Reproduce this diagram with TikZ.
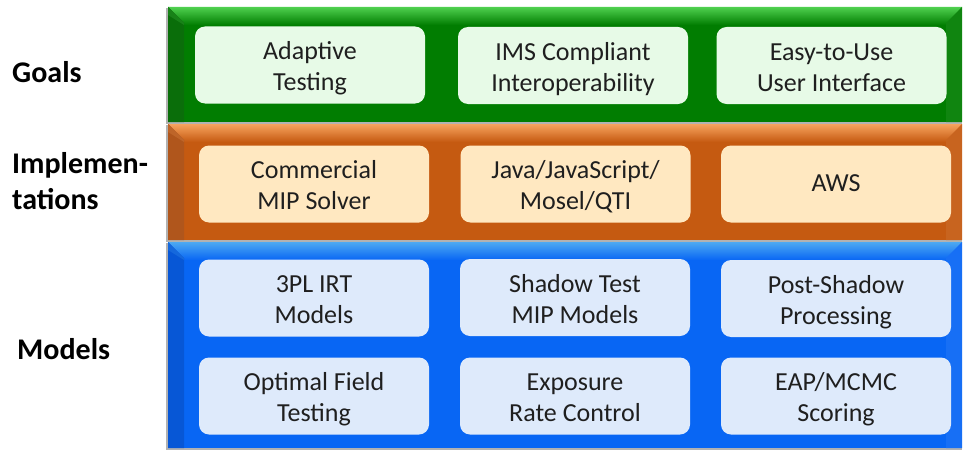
\documentclass[tikz,border=0pt]{standalone}
\usepackage{fontspec}
\setmainfont{Carlito}
\newcommand{\bt}[2]{\rule{0pt}{26pt}#1\\#2\rule[-6pt]{0pt}{6pt}}
\begin{document}
\begin{tikzpicture}[x=1pt,y=-1pt,
  boxtext/.style={align=center,text=black!88,font=\fontsize{26}{31}\selectfont,
    minimum width=230pt,minimum height=77pt,rounded corners=10pt,inner sep=0pt},
  gbox/.style={boxtext,fill=gboxc},
  obox/.style={boxtext,fill=oboxc},
  bbox/.style={boxtext,fill=bboxc},
  lbl/.style={anchor=west,align=left,text=black,font=\fontsize{30}{36}\selectfont\bfseries,inner sep=0pt}
]
\definecolor{gbase}{HTML}{017D01}
\definecolor{gtop}{HTML}{4FD04F}
\definecolor{gleft}{HTML}{0A6E0A}
\definecolor{obase}{HTML}{C55A11}
\definecolor{otop}{HTML}{F7A35E}
\definecolor{oleft}{HTML}{B0561C}
\definecolor{bbase}{HTML}{0866F4}
\definecolor{btop}{HTML}{4DA9F2}
\definecolor{bleft}{HTML}{0757D6}
\definecolor{gboxc}{HTML}{E7FAE7}
\definecolor{oboxc}{HTML}{FFE8C1}
\definecolor{bboxc}{HTML}{DEEAFB}
\useasboundingbox (0,0) rectangle (966,452);
\fill[white] (0,0) rectangle (966,452);
\newcommand{\myband}[5]{%
  \fill[black!30] (#1-2,#2+1) rectangle (#3,#4+2);
  \fill[#5base] (#1,#2) rectangle (#3,#4);
  \shade[top color=#5top,bottom color=#5base] (#1,#2) -- (#3,#2) -- (#3-16,#2+18) -- (#1+16,#2+18) -- cycle;
  \fill[#5left] (#1,#2) -- (#1+16,#2+16) -- (#1+16,#4) -- (#1,#4) -- cycle;
  \fill[#5base!94!white] (#3,#2) -- (#3-16,#2+16) -- (#3-16,#4) -- (#3,#4) -- cycle;
  \fill[#5left!80!#5top] (#1,#2) -- (#1+16,#2+16) -- (#1+16,#2+18) -- (#1,#2+8) -- cycle;
}
\myband{168}{7}{962}{122}{g}
\myband{168}{124}{962}{240}{o}
\myband{168}{242}{962}{448}{b}
% Goals
\node[gbox] (g1) at (310,65) {\bt{Adaptive}{Testing}};
\node[gbox] (g2) at (573,65.5) {\bt{IMS Compliant}{Interoperability}};
\node[gbox] (g3) at (831.5,65.5) {\bt{Easy-to-Use}{User Interface}};
% Implementations
\node[obox] (i1) at (314,184) {\bt{Commercial}{MIP Solver}};
\node[obox] (i2) at (575.5,184) {\bt{Java/JavaScript/}{Mosel/QTI}};
\node[obox] (i3) at (836,184) {\rule[-6pt]{0pt}{26pt}AWS};
% Models
\node[bbox] (m1) at (314,298) {\bt{3PL IRT}{Models}};
\node[bbox] (m2) at (575,297.5) {\bt{Shadow Test}{MIP Models}};
\node[bbox] (m3) at (836,298.5) {\bt{Post-Shadow}{Processing}};
\node[bbox] (m4) at (314,396) {\bt{Optimal Field}{Testing}};
\node[bbox] (m5) at (575,396) {\bt{Exposure}{Rate Control}};
\node[bbox] (m6) at (836,396) {\bt{EAP/MCMC}{Scoring}};
% labels
\node[lbl] (lg) at (12,72) {Goals};
\node[lbl] (li) at (12,181) {Implemen-\\tations};
\node[lbl] (lm) at (17,349) {Models};
\end{tikzpicture}
\end{document}
